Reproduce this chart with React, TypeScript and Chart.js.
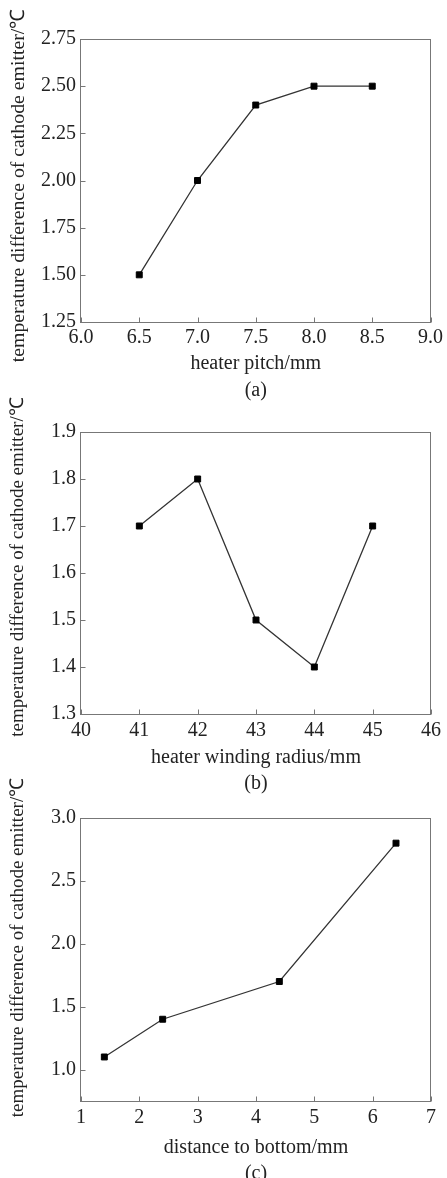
import React, { useEffect, useRef } from "react";
import { Chart, registerables } from "chart.js";

Chart.register(...registerables);

// ---- data ----
const pitchX = [6.5, 7.0, 7.5, 8.0, 8.5];
const pitchY = [1.5, 2.0, 2.4, 2.5, 2.5];
const pitchXTicks = [6.0, 6.5, 7.0, 7.5, 8.0, 8.5, 9.0];
const pitchYTicks = [1.25, 1.5, 1.75, 2.0, 2.25, 2.5, 2.75];

const radiusX = [41, 42, 43, 44, 45];
const radiusY = [1.7, 1.8, 1.5, 1.4, 1.7];
const radiusXTicks = [40, 41, 42, 43, 44, 45, 46];
const radiusYTicks = [1.3, 1.4, 1.5, 1.6, 1.7, 1.8, 1.9];

const distX = [1.4, 2.4, 4.4, 6.4];
const distY = [1.1, 1.4, 1.7, 2.8];
const distXTicks = [1, 2, 3, 4, 5, 6, 7];
const distYTicks = [1.0, 1.5, 2.0, 2.5, 3.0];

const yTitle = "temperature difference of cathode emitter/℃";

const FONT = '"Liberation Serif", "Times New Roman", serif';
const TEXT = "#222";

type Spec = {
  xs: number[];
  ys: number[];
  xTicks: number[];
  yTicks: number[];
  xMin: number;
  xMax: number;
  yMin: number;
  yMax: number;
  xDec: number;
  yDec: number;
  xTitle: string;
  caption: string;
  top: number;
  height: number;
  areaTop: number;
  areaBottom: number;
  tickPad: number;
  xAxisH: number;
  capPad: number;
  yTitleShift: number;
  yTitleSize: number;
};

function makeFramePlugin(s: Spec) {
  return {
    id: "frame",
    beforeDatasetsDraw(chart: any) {
      const { ctx, chartArea, scales } = chart;
      const { left, top, right, bottom } = chartArea;
      ctx.save();
      ctx.strokeStyle = "#777";
      ctx.lineWidth = 1;
      const l = Math.round(left) - 0.5;
      const t = Math.round(top) + 0.5;
      const r = Math.round(right) - 0.5;
      const b = Math.round(bottom) + 0.5;
      ctx.strokeRect(l, t, r - l, b - t);
      ctx.beginPath();
      scales.x.ticks.forEach((tk: any) => {
        const px = Math.round(scales.x.getPixelForValue(tk.value)) + 0.5;
        ctx.moveTo(px, b);
        ctx.lineTo(px, b - 5);
      });
      scales.y.ticks.forEach((tk: any) => {
        const py = Math.round(scales.y.getPixelForValue(tk.value)) + 0.5;
        ctx.moveTo(l, py);
        ctx.lineTo(l + 5, py);
      });
      ctx.stroke();
      ctx.restore();
    },
    afterDraw(chart: any) {
      const { ctx, chartArea } = chart;
      const cy = (chartArea.top + chartArea.bottom) / 2 + s.yTitleShift;
      ctx.save();
      ctx.fillStyle = TEXT;
      ctx.font = `${s.yTitleSize}px ${FONT}`;
      ctx.textAlign = "center";
      ctx.textBaseline = "middle";
      ctx.translate(18.5, cy);
      ctx.rotate(-Math.PI / 2);
      ctx.fillText(yTitle, 0, 0);
      ctx.restore();
    },
  };
}

function makeConfig(s: Spec): any {
  const points = s.xs.map((x, i) => ({ x, y: s.ys[i] }));
  const titleBox = 24 + s.capPad;
  const padBottom = s.height - s.areaBottom - s.xAxisH - titleBox;
  return {
    type: "line",
    data: {
      datasets: [
        {
          data: points,
          borderColor: "#333",
          borderWidth: 1.3,
          pointStyle: "rect",
          pointRadius: 4.2,
          pointBackgroundColor: "#000",
          pointBorderColor: "#000",
          pointBorderWidth: 1,
          tension: 0,
          fill: false,
        },
      ],
    },
    options: {
      responsive: false,
      animation: false,
      devicePixelRatio: 1,
      layout: {
        padding: { top: s.areaTop, right: 16, bottom: padBottom, left: 0 },
      },
      plugins: {
        legend: { display: false },
        tooltip: { enabled: false },
        title: {
          display: true,
          text: s.caption,
          position: "bottom",
          fullSize: false,
          color: TEXT,
          font: { family: FONT, size: 20, weight: "normal", lineHeight: 1.2 },
          padding: { top: s.capPad, bottom: 0 },
        },
      },
      scales: {
        x: {
          type: "linear",
          min: s.xMin,
          max: s.xMax,
          grid: { display: false, drawTicks: false },
          border: { display: false },
          afterBuildTicks: (scale: any) => {
            scale.ticks = s.xTicks.map((v) => ({ value: v }));
          },
          afterFit: (scale: any) => {
            scale.height = s.xAxisH;
          },
          ticks: {
            padding: s.tickPad,
            color: TEXT,
            maxRotation: 0,
            autoSkip: false,
            font: { family: FONT, size: 20, lineHeight: 1.2 },
            callback: (v: any) => Number(v).toFixed(s.xDec),
          },
          title: {
            display: true,
            text: s.xTitle,
            color: TEXT,
            font: { family: FONT, size: 20, lineHeight: 1.2 },
            padding: { top: 0, bottom: 0 },
          },
        },
        y: {
          type: "linear",
          min: s.yMin,
          max: s.yMax,
          grid: { display: false, drawTicks: false },
          border: { display: false },
          afterBuildTicks: (scale: any) => {
            scale.ticks = s.yTicks.map((v) => ({ value: v }));
          },
          afterFit: (scale: any) => {
            scale.width = 81;
          },
          ticks: {
            padding: 5,
            color: TEXT,
            autoSkip: false,
            font: { family: FONT, size: 20, lineHeight: 1.2 },
            callback: (v: any) => Number(v).toFixed(s.yDec),
          },
          title: { display: false, text: yTitle },
        },
      },
    },
    plugins: [makeFramePlugin(s)],
  };
}

const specs: Spec[] = [
  {
    xs: pitchX,
    ys: pitchY,
    xTicks: pitchXTicks,
    yTicks: pitchYTicks,
    xMin: 6,
    xMax: 9,
    yMin: 1.25,
    yMax: 2.75,
    xDec: 1,
    yDec: 2,
    xTitle: "heater pitch/mm",
    caption: "(a)",
    top: 0,
    height: 410,
    areaTop: 39,
    areaBottom: 322,
    tickPad: 4,
    xAxisH: 54,
    capPad: 3,
    yTitleShift: 5,
    yTitleSize: 19.8,
  },
  {
    xs: radiusX,
    ys: radiusY,
    xTicks: radiusXTicks,
    yTicks: radiusYTicks,
    xMin: 40,
    xMax: 46,
    yMin: 1.3,
    yMax: 1.9,
    xDec: 0,
    yDec: 1,
    xTitle: "heater winding radius/mm",
    caption: "(b)",
    top: 380,
    height: 430,
    areaTop: 52,
    areaBottom: 334,
    tickPad: 5,
    xAxisH: 56,
    capPad: 2,
    yTitleShift: -6,
    yTitleSize: 19,
  },
  {
    xs: distX,
    ys: distY,
    xTicks: distXTicks,
    yTicks: distYTicks,
    xMin: 1,
    xMax: 7,
    yMin: 0.75,
    yMax: 3.0,
    xDec: 0,
    yDec: 1,
    xTitle: "distance to bottom/mm",
    caption: "(c)",
    top: 770,
    height: 420,
    areaTop: 48,
    areaBottom: 331,
    tickPad: 5,
    xAxisH: 59,
    capPad: 2,
    yTitleShift: -12,
    yTitleSize: 19,
  },
];

function Panel({ spec }: { spec: Spec }) {
  const ref = useRef<HTMLCanvasElement | null>(null);
  useEffect(() => {
    if (!ref.current) return;
    const chart = new Chart(ref.current, makeConfig(spec));
    return () => chart.destroy();
  }, [spec]);
  return (
    <canvas
      ref={ref}
      width={447}
      height={spec.height}
      style={{
        position: "absolute",
        left: 0,
        top: spec.top,
        width: 447,
        height: spec.height,
        display: "block",
      }}
    />
  );
}

export default function App() {
  return (
    <div
      style={{
        position: "absolute",
        left: 0,
        top: 0,
        width: 447,
        height: 1178,
        overflow: "hidden",
        background: "#fff",
      }}
    >
      {specs.map((s, i) => (
        <Panel key={i} spec={s} />
      ))}
    </div>
  );
}
